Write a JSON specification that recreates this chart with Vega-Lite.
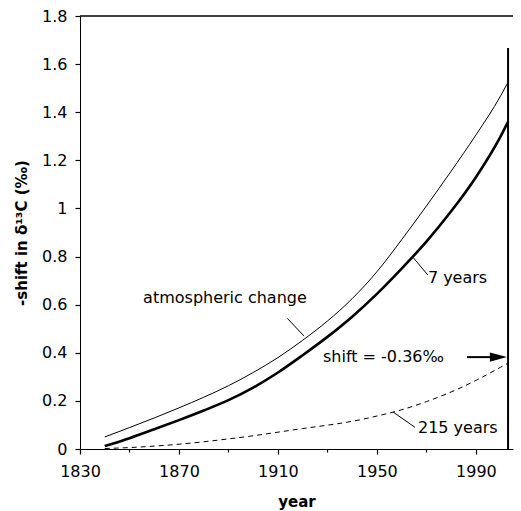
{
  "$schema": "https://vega.github.io/schema/vega-lite/v6.json",
  "width": 433,
  "height": 433,
  "autosize": "none",
  "padding": {"left": 80, "top": 16, "right": 8, "bottom": 62},
  "background": "white",
  "config": {
    "view": {"stroke": null},
    "font": "DejaVu Sans",
    "axis": {
      "domainColor": "black",
      "labelColor": "black",
      "titleColor": "black",
      "grid": false,
      "labelFont": "DejaVu Sans",
      "titleFont": "DejaVu Sans",
      "labelFontSize": 16,
      "titleFontSize": 15,
      "titleFontWeight": "bold",
      "labelOverlap": false,
      "labelFlush": false
    }
  },
  "datasets": {
    "curves": [
      {"year": 1840, "value": 0.05, "series": "atmospheric change"},
      {"year": 1850, "value": 0.089, "series": "atmospheric change"},
      {"year": 1860, "value": 0.129, "series": "atmospheric change"},
      {"year": 1870, "value": 0.171, "series": "atmospheric change"},
      {"year": 1880, "value": 0.215, "series": "atmospheric change"},
      {"year": 1890, "value": 0.263, "series": "atmospheric change"},
      {"year": 1900, "value": 0.318, "series": "atmospheric change"},
      {"year": 1910, "value": 0.38, "series": "atmospheric change"},
      {"year": 1920, "value": 0.452, "series": "atmospheric change"},
      {"year": 1930, "value": 0.532, "series": "atmospheric change"},
      {"year": 1940, "value": 0.625, "series": "atmospheric change"},
      {"year": 1950, "value": 0.737, "series": "atmospheric change"},
      {"year": 1960, "value": 0.87, "series": "atmospheric change"},
      {"year": 1970, "value": 1.01, "series": "atmospheric change"},
      {"year": 1980, "value": 1.155, "series": "atmospheric change"},
      {"year": 1990, "value": 1.305, "series": "atmospheric change"},
      {"year": 2000, "value": 1.468, "series": "atmospheric change"},
      {"year": 2003, "value": 1.525, "series": "atmospheric change"},
      {"year": 1840, "value": 0.012, "series": "7 years"},
      {"year": 1850, "value": 0.045, "series": "7 years"},
      {"year": 1860, "value": 0.082, "series": "7 years"},
      {"year": 1870, "value": 0.12, "series": "7 years"},
      {"year": 1880, "value": 0.16, "series": "7 years"},
      {"year": 1890, "value": 0.203, "series": "7 years"},
      {"year": 1900, "value": 0.255, "series": "7 years"},
      {"year": 1910, "value": 0.318, "series": "7 years"},
      {"year": 1920, "value": 0.39, "series": "7 years"},
      {"year": 1930, "value": 0.466, "series": "7 years"},
      {"year": 1940, "value": 0.55, "series": "7 years"},
      {"year": 1950, "value": 0.645, "series": "7 years"},
      {"year": 1960, "value": 0.75, "series": "7 years"},
      {"year": 1970, "value": 0.862, "series": "7 years"},
      {"year": 1980, "value": 0.988, "series": "7 years"},
      {"year": 1990, "value": 1.13, "series": "7 years"},
      {"year": 2000, "value": 1.3, "series": "7 years"},
      {"year": 2003, "value": 1.36, "series": "7 years"},
      {"year": 1840, "value": 0.002, "series": "215 years"},
      {"year": 1850, "value": 0.006, "series": "215 years"},
      {"year": 1860, "value": 0.012, "series": "215 years"},
      {"year": 1870, "value": 0.02, "series": "215 years"},
      {"year": 1880, "value": 0.03, "series": "215 years"},
      {"year": 1890, "value": 0.042, "series": "215 years"},
      {"year": 1900, "value": 0.055, "series": "215 years"},
      {"year": 1910, "value": 0.07, "series": "215 years"},
      {"year": 1920, "value": 0.085, "series": "215 years"},
      {"year": 1930, "value": 0.099, "series": "215 years"},
      {"year": 1940, "value": 0.115, "series": "215 years"},
      {"year": 1950, "value": 0.137, "series": "215 years"},
      {"year": 1960, "value": 0.163, "series": "215 years"},
      {"year": 1970, "value": 0.197, "series": "215 years"},
      {"year": 1980, "value": 0.237, "series": "215 years"},
      {"year": 1990, "value": 0.285, "series": "215 years"},
      {"year": 2000, "value": 0.34, "series": "215 years"},
      {"year": 2003, "value": 0.357, "series": "215 years"}
    ],
    "notes": [
      {"year": 1855.5, "value": 0.628, "text": "atmospheric change"},
      {"year": 1970.6, "value": 0.711, "text": "7 years"},
      {"year": 1928.2, "value": 0.382, "text": "shift = -0.36‰"},
      {"year": 1966.6, "value": 0.087, "text": "215 years"}
    ],
    "pointers": [
      {"year": 1913.8, "year2": 1920.5, "value": 0.543, "value2": 0.47},
      {"year": 1964.5, "year2": 1970.6, "value": 0.798, "value2": 0.723},
      {"year": 1956.5, "year2": 1965.4, "value": 0.154, "value2": 0.09}
    ]
  },
  "layer": [
    {
      "data": {"name": "curves"},
      "transform": [{"filter": "datum.series === 'atmospheric change'"}],
      "mark": {"type": "line", "color": "black", "strokeWidth": 1, "interpolate": "monotone"},
      "encoding": {
        "x": {
          "field": "year", "type": "quantitative",
          "scale": {"domain": [1830, 2005], "nice": false, "zero": false},
          "axis": {
            "title": "year",
            "values": [1830,1835,1840,1845,1850,1855,1860,1865,1870,1875,1880,1885,1890,1895,1900,1905,1910,1915,1920,1925,1930,1935,1940,1945,1950,1955,1960,1965,1970,1975,1980,1985,1990,1995,2000,2005],
            "format": "d",
            "labelExpr": "datum.value % 40 === 30 ? datum.label : ''",
            "ticks": true,
            "tickColor": "#000000",
            "tickWidth": 1.2,
            "tickSize": {"condition": {"test": "datum.value % 40 === 30", "value": 5}, "value": 3},
            "labelPadding": 9,
            "titlePadding": 15
          }
        },
        "y": {
          "field": "value", "type": "quantitative",
          "scale": {"domain": [0, 1.8], "nice": false},
          "axis": {
            "title": "-shift in δ¹³C (‰)",
            "values": [0,0.1,0.2,0.3,0.4,0.5,0.6,0.7,0.8,0.9,1,1.1,1.2,1.3,1.4,1.5,1.6,1.7,1.8],
            "format": "~g",
            "labelExpr": "round(datum.value * 10) % 2 === 0 ? datum.label : ''",
            "ticks": true,
            "tickColor": "#000000",
            "tickWidth": 1.2,
            "tickSize": {"condition": {"test": "round(datum.value * 10) % 2 === 0", "value": 5}, "value": 3},
            "labelPadding": 8,
            "titlePadding": 12
          }
        }
      }
    },
    {
      "data": {"name": "curves"},
      "transform": [{"filter": "datum.series === '7 years'"}],
      "mark": {"type": "line", "color": "black", "strokeWidth": 2.6, "interpolate": "monotone"},
      "encoding": {
        "x": {"field": "year", "type": "quantitative"},
        "y": {"field": "value", "type": "quantitative"}
      }
    },
    {
      "data": {"name": "curves"},
      "transform": [{"filter": "datum.series === '215 years'"}],
      "mark": {"type": "line", "color": "black", "strokeWidth": 1, "strokeDash": [5, 4], "interpolate": "monotone"},
      "encoding": {
        "x": {"field": "year", "type": "quantitative"},
        "y": {"field": "value", "type": "quantitative"}
      }
    },
    {
      "data": {"values": [{"x1": 1830, "x2": 2005, "y1": 1.8}]},
      "mark": {"type": "rule", "color": "black", "strokeWidth": 1.5},
      "encoding": {
        "x": {"field": "x1", "type": "quantitative"},
        "x2": {"field": "x2"},
        "y": {"field": "y1", "type": "quantitative"}
      }
    },
    {
      "data": {"values": [{"x1": 2003, "y1": 0, "y2": 1.667}]},
      "mark": {"type": "rule", "color": "black", "strokeWidth": 2},
      "encoding": {
        "x": {"field": "x1", "type": "quantitative"},
        "y": {"field": "y1", "type": "quantitative"},
        "y2": {"field": "y2"}
      }
    },
    {
      "data": {"values": [{"x1": 1986.4, "x2": 1997, "y1": 0.382}]},
      "mark": {"type": "rule", "color": "black", "strokeWidth": 2},
      "encoding": {
        "x": {"field": "x1", "type": "quantitative"},
        "x2": {"field": "x2"},
        "y": {"field": "y1", "type": "quantitative"}
      }
    },
    {
      "data": {"values": [{"x1": 1999.1, "y1": 0.382}]},
      "mark": {"type": "point", "shape": "M-1,-0.55L1,0L-1,0.55Z", "filled": true, "color": "black", "size": 289, "opacity": 1},
      "encoding": {
        "x": {"field": "x1", "type": "quantitative"},
        "y": {"field": "y1", "type": "quantitative"}
      }
    },
    {
      "data": {"name": "pointers"},
      "mark": {"type": "rule", "color": "black", "strokeWidth": 1},
      "encoding": {
        "x": {"field": "year", "type": "quantitative"},
        "x2": {"field": "year2"},
        "y": {"field": "value", "type": "quantitative"},
        "y2": {"field": "value2"}
      }
    },
    {
      "data": {"name": "notes"},
      "mark": {"type": "text", "align": "left", "baseline": "middle", "fontSize": 16, "font": "DejaVu Sans", "color": "black"},
      "encoding": {
        "x": {"field": "year", "type": "quantitative"},
        "y": {"field": "value", "type": "quantitative"},
        "text": {"field": "text"}
      }
    }
  ]
}
